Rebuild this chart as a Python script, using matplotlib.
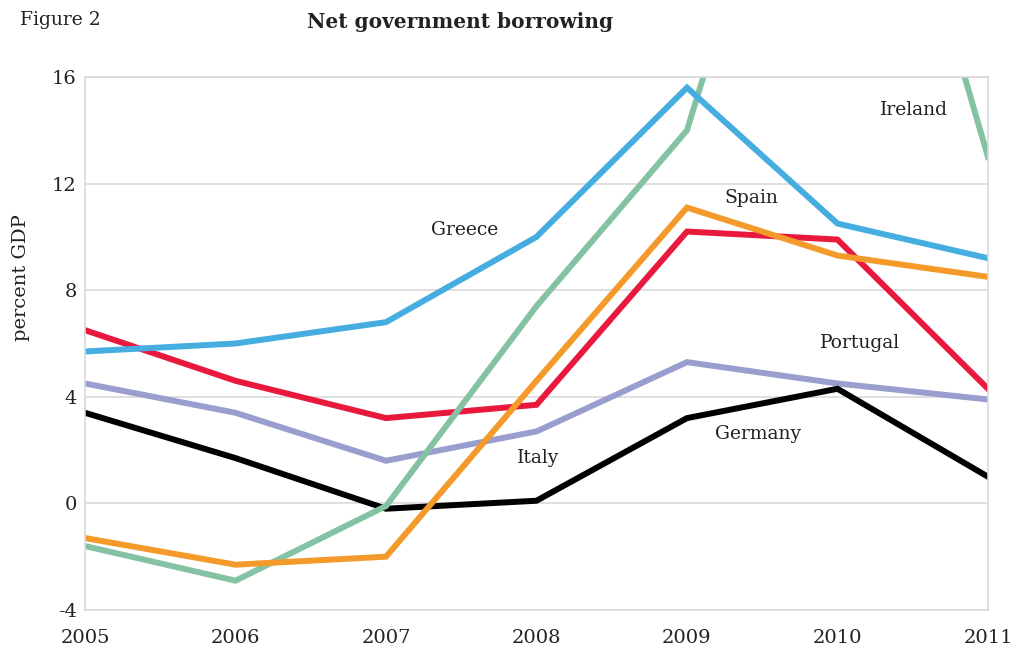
import matplotlib.pyplot as plt

years = [2005, 2006, 2007, 2008, 2009, 2010, 2011]
greece = [5.7, 6.0, 6.8, 10.0, 15.6, 10.5, 9.2]
ireland = [-1.6, -2.9, -0.1, 7.4, 14.0, 32.4, 13.0]
spain = [-1.3, -2.3, -2.0, 4.6, 11.1, 9.3, 8.5]
portugal = [6.5, 4.6, 3.2, 3.7, 10.2, 9.9, 4.3]
italy = [4.5, 3.4, 1.6, 2.7, 5.3, 4.5, 3.9]
germany = [3.4, 1.7, -0.2, 0.1, 3.2, 4.3, 1.0]

plt.rcParams['font.family'] = ['DejaVu Serif']
plt.rcParams['axes.unicode_minus'] = False

fig = plt.figure(figsize=(10.18, 6.49), dpi=100)
ax = fig.add_axes([0.0835, 0.0601, 0.887, 0.8213])

lw = 4.3
ax.plot(years, italy, color='#9A9ECF', lw=lw, solid_joinstyle='miter')
ax.plot(years, germany, color='black', lw=lw, solid_joinstyle='miter')
ax.plot(years, portugal, color='#E8193C', lw=lw, solid_joinstyle='miter')
ax.plot(years, ireland, color='#84C2A4', lw=lw, solid_joinstyle='miter')
ax.plot(years, spain, color='#F39A2B', lw=lw, solid_joinstyle='miter')
ax.plot(years, greece, color='#45ADE0', lw=lw, solid_joinstyle='miter')

ax.set_xlim(2005, 2011)
ax.set_ylim(-4, 16)
ax.set_yticks([-4, 0, 4, 8, 12, 16])
ax.set_xticks(years)
ax.grid(axis='y', color='#D9D9D9', lw=1.2)
ax.set_axisbelow(True)
for s in ax.spines.values():
    s.set_color('#D9D9D9')
    s.set_linewidth(1.2)
ax.tick_params(length=0, labelsize=14, colors='#222222')
ax.tick_params(axis='x', pad=14)
ax.tick_params(axis='y', pad=6)
ax.set_ylabel('percent GDP', fontsize=14, color='#222222')
ax.yaxis.set_label_coords(-0.061, 0.623)

lab = dict(fontsize=13.5, color='#222222', ha='center', va='center')
ax.text(2007.52, 10.27, 'Greece', **lab)
ax.text(2009.43, 11.47, 'Spain', **lab)
ax.text(2010.51, 14.77, 'Ireland', **lab)
ax.text(2010.15, 6.02, 'Portugal', **lab)
ax.text(2009.47, 2.62, 'Germany', **lab)
ax.text(2008.01, 1.71, 'Italy', **lab)

fig.text(20 / 1018, 1 - 20 / 649, 'Figure 2', fontsize=13.5, color='#222222', va='center')
fig.text(460 / 1018, 1 - 22 / 649, 'Net government borrowing', fontsize=14.5,
         fontweight='bold', color='#222222', ha='center', va='center')

fig.savefig('out.png', dpi=100)
